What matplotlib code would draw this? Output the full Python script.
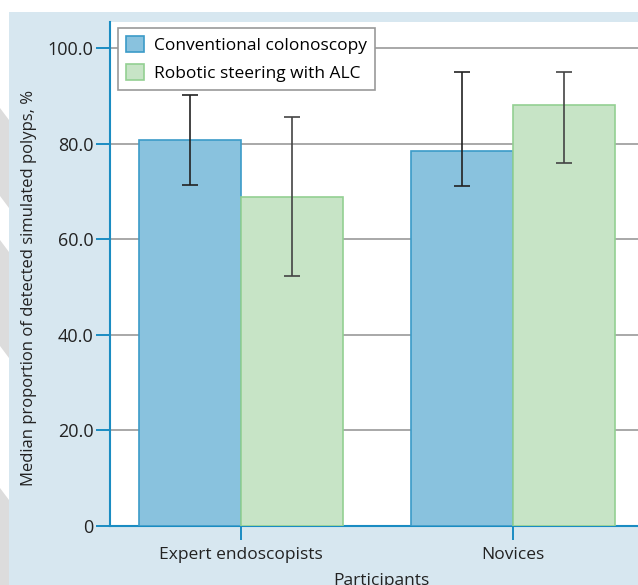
import matplotlib
matplotlib.use("Agg")
import matplotlib.pyplot as plt
from matplotlib.patches import Rectangle, Polygon
import numpy as np

categories = ["Expert endoscopists", "Novices"]
series_names = ["Conventional colonoscopy", "Robotic steering with ALC"]
conv_median = [80.8, 78.5]
conv_low = [71.3, 71.2]
conv_high = [90.2, 95.0]
robo_median = [68.9, 88.1]
robo_low = [52.4, 76.0]
robo_high = [85.6, 95.0]
yticks = [0, 20, 40, 60, 80, 100]
ytick_labels = ["0", "20.0", "40.0", "60.0", "80.0", "100.0"]

plt.rcParams['font.family'] = ['Open Sans', 'DejaVu Sans']

W, H = 638, 585
fig = plt.figure(figsize=(W / 100, H / 100), dpi=100)
fig.patch.set_facecolor("white")

# decorative gray chevrons in left strip
for (y0, y1) in [(108, 208), (240, 358), (488, 600)]:
    poly = Polygon([(0, 1 - y0 / H), (9 / W, 1 - (y0 + 12) / H),
                    (9 / W, 1 - (y1 - 0) / H), (0, 1 - (y1 - 12) / H)],
                   closed=True, transform=fig.transFigure, facecolor="#dcdcdc",
                   edgecolor="none", zorder=-10)
    fig.patches.append(poly)

panel = Rectangle((9 / W, 0), 1 - 9 / W, (H - 12) / H, transform=fig.transFigure,
                  facecolor="#d7e7f0", edgecolor="none", zorder=-10)
fig.patches.append(panel)

ax = fig.add_axes([110 / W, (H - 526) / H, 542 / W, 504 / H])
ax.set_zorder(1)
ax.set_facecolor("white")

x = np.arange(len(categories))
bw = 0.375
conv_err = [np.array(conv_median) - np.array(conv_low), np.array(conv_high) - np.array(conv_median)]
robo_err = [np.array(robo_median) - np.array(robo_low), np.array(robo_high) - np.array(robo_median)]

ax.bar(x - bw / 2, conv_median, bw, color="#89c2de", edgecolor="#3b9bc8", linewidth=1.2,
       label=series_names[0], zorder=3)
ax.bar(x + bw / 2, robo_median, bw, color="#c7e4c6", edgecolor="#93d092", linewidth=1.2,
       label=series_names[1], zorder=3)
ax.errorbar(x - bw / 2, conv_median, yerr=conv_err, fmt="none", ecolor="#222222",
            elinewidth=1.2, capsize=5.8, capthick=1.2, zorder=4)
ax.errorbar(x + bw / 2, robo_median, yerr=robo_err, fmt="none", ecolor="#444444",
            elinewidth=1.2, capsize=5.8, capthick=1.2, zorder=4)

ax.set_xlim(-131 / 272, 411 / 272)
ax.set_ylim(0, 105.44)
ax.set_yticks(yticks)
ax.set_yticklabels(ytick_labels)
ax.set_xticks(x)
ax.set_xticklabels(categories)

for y in yticks[1:]:
    ax.axhline(y, color="#9a9a9a", linewidth=1.2, zorder=1)

blue = "#1a8cc2"
for s in ["top", "right"]:
    ax.spines[s].set_visible(False)
for s in ["left", "bottom"]:
    ax.spines[s].set_color(blue)
    ax.spines[s].set_linewidth(1.5)
ax.tick_params(axis="both", colors=blue, length=10, width=1.4,
               labelcolor="#222222")
ax.tick_params(axis="y", labelsize=13, pad=2)
ax.tick_params(axis="x", labelsize=12.5, pad=5)

ax.set_ylabel("Median proportion of detected simulated polyps, %", fontsize=12,
              color="#222222")
ax.yaxis.set_label_coords(-73 / 542, (526 - 288) / 504)
ax.set_xlabel("Participants", fontsize=12.5, color="#222222", labelpad=7)

leg = ax.legend(loc="upper left", bbox_to_anchor=(8 / 542, 498 / 504), borderaxespad=0,
                fancybox=False, framealpha=1, edgecolor="#999999", fontsize=12.5,
                handlelength=1.05, handleheight=1.05, handletextpad=0.55,
                borderpad=0.47, labelspacing=0.57)
leg.get_frame().set_linewidth(1.2)
leg.set_zorder(10)

fig.savefig("out.png", dpi=100, facecolor=fig.get_facecolor())
